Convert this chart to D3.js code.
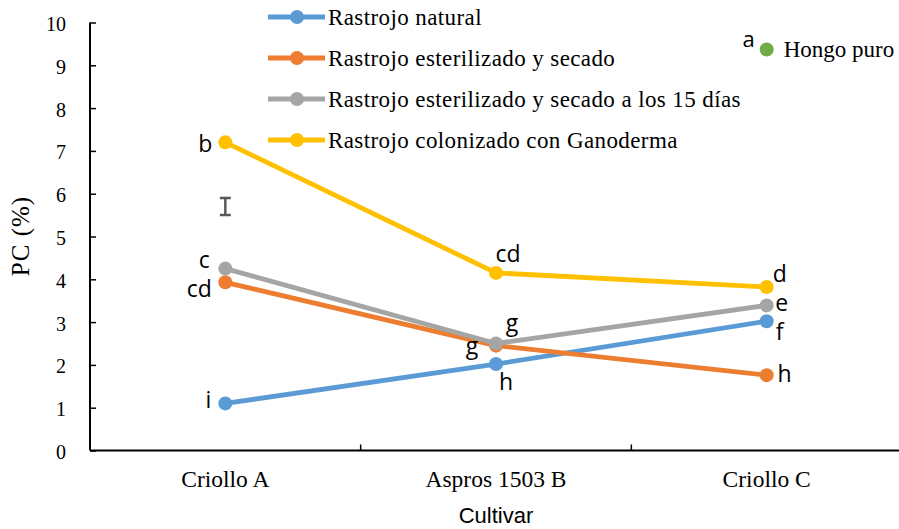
<!DOCTYPE html>
<html><head><meta charset="utf-8">
<script src="https://cdn.jsdelivr.net/npm/d3@7/dist/d3.min.js"></script>
<style>body{margin:0;background:#fff}</style>
</head><body><svg id="c" width="899" height="529"></svg>
<script>
const categories = ["Criollo A", "Aspros 1503 B", "Criollo C"];
const seriesNames = ["Rastrojo natural", "Rastrojo esterilizado y secado", "Rastrojo esterilizado y secado a los 15 días", "Rastrojo colonizado con Ganoderma"];
const natural = [1.1, 2.02, 3.02];
const esterilizado = [3.93, 2.45, 1.76];
const esterilizado15 = [4.25, 2.5, 3.39];
const colonizado = [7.2, 4.15, 3.82];
const letters = [["i","h","f"],["cd","g","h"],["c","g","e"],["b","cd","d"]];
const hongoPuro = {cat: "Criollo C", value: 9.37, letter: "a", label: "Hongo puro"};
const errorBar = {cat: "Criollo A", value: 5.70, half: 0.2};
const yTicks = [0,1,2,3,4,5,6,7,8,9,10];
const colors = ["#5B9BD5", "#ED7D31", "#A5A5A5", "#FFC000"];

const SERIF = '"Liberation Serif"';
const SANS = '"Open Sans"';
const LSANS = '"Liberation Sans"';

const values = [natural, esterilizado, esterilizado15, colonizado];
const svg = d3.select("#c");
const x = d3.scaleBand().domain(categories).range([90, 902]);
const y = d3.scaleLinear().domain([0, 10]).range([450.5, 22.5]);
const cx = c => x(c) + x.bandwidth() / 2;

// axes
const ya = svg.append("g").attr("transform", "translate(90,0)")
  .call(d3.axisRight(y).tickValues(yTicks).tickSize(6).tickFormat(d3.format("d")));
ya.attr("font-family", null).attr("font-size", null);
ya.select(".domain").attr("d", `M0,${y(10)}V${y(0)}`).attr("stroke", "#000").attr("stroke-width", 2);
ya.selectAll(".tick line").attr("stroke", "#000").attr("stroke-width", 1.5);
ya.selectAll(".tick text").attr("x", -24).attr("text-anchor", "end").attr("dy", "0.4em")
  .style("font-family", SERIF).style("font-size", "20px").attr("fill", "#000");

const xa = svg.append("g").attr("transform", `translate(0,${y(0)})`)
  .call(d3.axisTop(x).tickSize(0));
xa.attr("font-family", null).attr("font-size", null);
xa.select(".domain").attr("d", `M90,0H902`).attr("stroke", "#000").attr("stroke-width", 2);
xa.selectAll(".tick line").remove();
xa.selectAll(".tick text").attr("y", 36.5).attr("dy", 0)
  .style("font-family", SERIF).style("font-size", "23.5px").attr("fill", "#000");
xa.selectAll("line.bt").data(categories.slice(1)).enter().append("line")
  .attr("x1", d => x(d)).attr("x2", d => x(d)).attr("y1", 0).attr("y2", -6)
  .attr("stroke", "#000").attr("stroke-width", 1.5);

svg.append("text").attr("x", 496).attr("y", 523).attr("text-anchor", "middle")
  .style("font-family", LSANS).style("font-size", "22px").text("Cultivar");
svg.append("text").attr("transform", "translate(21,236) rotate(-90)").attr("text-anchor", "middle").attr("dy", "0.33em")
  .style("font-family", SERIF).style("font-size", "25px").style("letter-spacing", "1px").text("PC (%)");

// series
const line = d3.line().x((d, i) => cx(categories[i])).y(d => y(d));
values.forEach((vals, s) => {
  svg.append("path").datum(vals).attr("d", line).attr("fill", "none")
    .attr("stroke", colors[s]).attr("stroke-width", 4.8).attr("stroke-linejoin", "round");
  svg.selectAll(null).data(vals).enter().append("circle")
    .attr("cx", (d, i) => cx(categories[i])).attr("cy", d => y(d)).attr("r", 7).attr("fill", colors[s]);
});

// error bar
const ex = cx(errorBar.cat);
const e1 = y(errorBar.value + errorBar.half), e2 = y(errorBar.value - errorBar.half);
svg.append("path").attr("d", `M${ex-5.5},${e1}H${ex+5.5}M${ex},${e1}V${e2}M${ex-5.5},${e2}H${ex+5.5}`)
  .attr("stroke", "#595959").attr("stroke-width", 2.5).attr("fill", "none");

// letter offsets [dx, baseline dy]
const offs = [
  [[-17, 5], [10, 26], [13, 19]],
  [[-26, 15], [-24, 8], [18, 7]],
  [[-21, -1], [16, -13], [15, 6]],
  [[-20, 10], [12, -11], [13, -5]]
];
values.forEach((vals, s) => {
  vals.forEach((v, i) => {
    svg.append("text").attr("x", cx(categories[i]) + offs[s][i][0]).attr("y", y(v) + offs[s][i][1])
      .attr("text-anchor", "middle")
      .style("font-family", SANS).style("font-size", "23px").attr("fill", "#000").text(letters[s][i]);
  });
});

// hongo puro
const hx = cx(hongoPuro.cat);
svg.append("circle").attr("cx", hx).attr("cy", y(hongoPuro.value)).attr("r", 7).attr("fill", "#70AD47");
svg.append("text").attr("x", hx - 18).attr("y", y(hongoPuro.value) - 2).attr("text-anchor", "middle")
  .style("font-family", SANS).style("font-size", "22px").text(hongoPuro.letter);
svg.append("text").attr("x", hx + 17).attr("y", y(hongoPuro.value)).attr("dy", "0.33em")
  .style("font-family", SERIF).style("font-size", "23px").text(hongoPuro.label);

// legend
const lg = svg.append("g");
seriesNames.forEach((n, s) => {
  const ly = 17 + s * 41;
  lg.append("line").attr("x1", 268).attr("x2", 325).attr("y1", ly).attr("y2", ly)
    .attr("stroke", colors[s]).attr("stroke-width", 4.8);
  lg.append("circle").attr("cx", 297).attr("cy", ly).attr("r", 7).attr("fill", colors[s]);
  lg.append("text").attr("x", 328).attr("y", ly + 8)
    .style("font-family", SERIF).style("font-size", "23px").style("letter-spacing", "0.4px").text(n);
});
</script></body></html>
